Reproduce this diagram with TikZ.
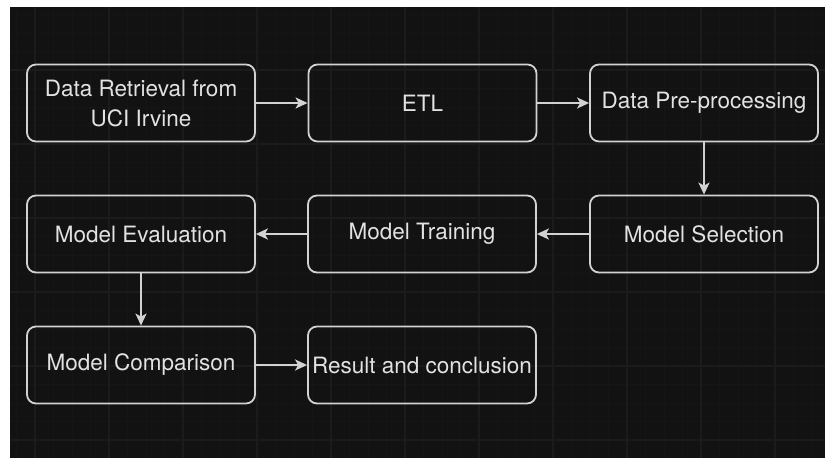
\documentclass[tikz,border=0pt]{standalone}
\usepackage{fontspec}
\setmainfont{TeX Gyre Heros}
\usetikzlibrary{arrows.meta}
\definecolor{bgdark}{HTML}{121212}
\definecolor{gridminor}{HTML}{151515}
\definecolor{gridmajor}{HTML}{1B1B1B}
\definecolor{boxline}{HTML}{D2D2D2}
\definecolor{txt}{HTML}{E2E2E2}
\begin{document}
\begin{tikzpicture}[x=1pt,y=-1pt,
  stepbox/.style={draw=boxline, line width=1.8pt, rounded corners=9pt,
    minimum width=228pt, minimum height=77pt, inner sep=0pt, text=txt,
    font=\fontsize{22.5}{30}\selectfont, align=center},
  flow/.style={draw=boxline, line width=2pt, -{Stealth[length=12pt,width=11pt,inset=3pt]}},
  minorline/.style={draw=gridminor, line width=0.8pt},
  majorline/.style={draw=gridmajor, line width=1.2pt}]
\useasboundingbox (0,0) rectangle (825,458);
\fill[white] (0,0) rectangle (825,458);
\fill[bgdark] (10,7) rectangle (825,458);
\begin{scope}
  \clip (10,7) rectangle (825,458);
  \foreach \i in {-1,...,44} {
    \draw[minorline] ({35+\i*18.5},7) -- ({35+\i*18.5},458);
  }
  \foreach \i in {-4,...,22} {
    \draw[minorline] (10,{70+\i*18.5}) -- (825,{70+\i*18.5});
  }
  \foreach \i in {0,...,11} {
    \draw[majorline] ({35+\i*74},7) -- ({35+\i*74},458);
  }
  \foreach \i in {-1,...,6} {
    \draw[majorline] (10,{70+\i*74}) -- (825,{70+\i*74});
  }
\end{scope}

\node[stepbox] (dr) at (141,103) {Data Retrieval from\\UCI Irvine};
\node[stepbox] (etl) at (422.5,103) {ETL};
\node[stepbox] (dp) at (704,103) {Data Pre-processing};
\node[stepbox] (ms) at (704,234) {Model Selection};
\node[stepbox] (mt) at (422,234) {Model Training};
\node[stepbox] (me) at (141,234) {Model Evaluation};
\node[stepbox] (mc) at (141,365) {Model Comparison};
\node[stepbox] (rc) at (422,365) {Result and conclusion};

\draw[flow] (dr.east) -- (etl.west);
\draw[flow] (etl.east) -- (dp.west);
\draw[flow] (dp.south) -- (ms.north);
\draw[flow] (ms.west) -- (mt.east);
\draw[flow] (mt.west) -- (me.east);
\draw[flow] (me.south) -- (mc.north);
\draw[flow] (mc.east) -- (rc.west);
\end{tikzpicture}
\end{document}
